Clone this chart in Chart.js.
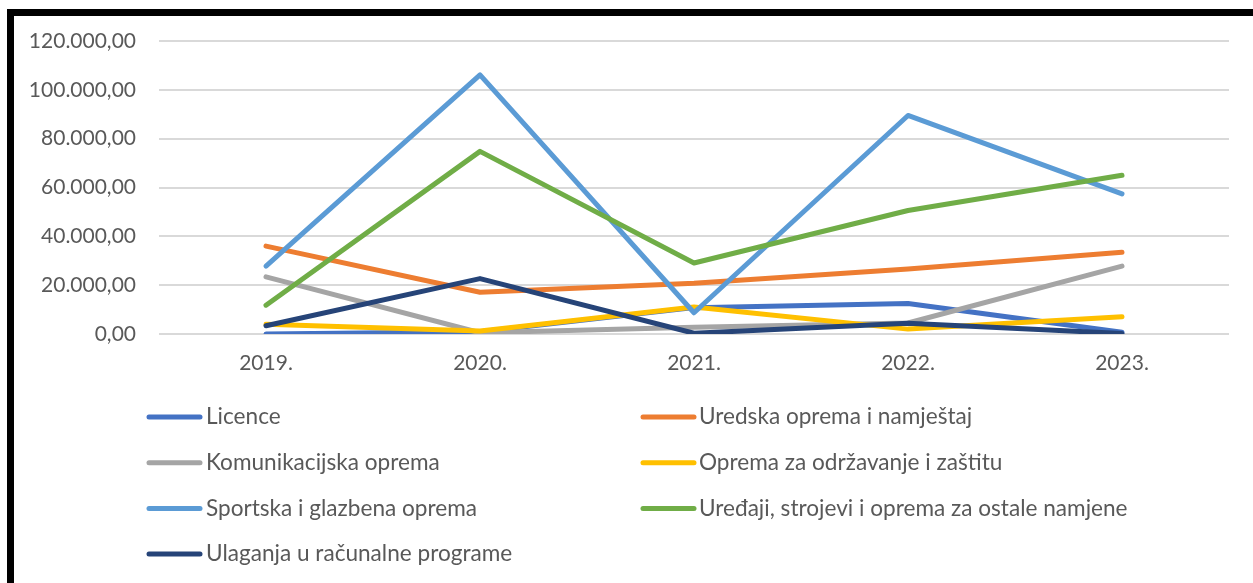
<!DOCTYPE html>
<html><head><meta charset="utf-8">
<script src="https://cdn.jsdelivr.net/npm/chart.js@4.4.1/dist/chart.umd.min.js"></script>
<style>
html,body{margin:0;padding:0;background:#fff;overflow:hidden}
#wrap{position:relative;width:1253px;height:583px}
#frame{position:absolute;left:7px;top:9px;width:1260px;height:600px;border-left:7px solid #000;border-top:7px solid #000;box-sizing:border-box;pointer-events:none}
canvas{position:absolute;left:0;top:0}
</style></head>
<body><div id="wrap"><canvas id="c" width="1253" height="583"></canvas><div id="frame"></div></div>
<script>
const categories = ['2019.', '2020.', '2021.', '2022.', '2023.'];
const seriesNames = [
  'Licence',
  'Uredska oprema i namještaj',
  'Komunikacijska oprema',
  'Oprema za održavanje i zaštitu',
  'Sportska i glazbena oprema',
  'Uređaji, strojevi i oprema za ostale namjene',
  'Ulaganja u računalne programe'
];
const licence        = [0, 900, 10800, 12500, 700];
const uredska        = [36000, 17100, 20800, 26600, 33500];
const komunikacijska = [23400, 500, 2800, 4500, 27800];
const odrzavanje     = [4000, 1200, 11100, 2000, 7100];
const sportska       = [27800, 106100, 8700, 89500, 57400];
const uredaji        = [11800, 74800, 29100, 50600, 65000];
const ulaganja       = [3400, 22700, 300, 4400, 200];
const yTicks = [0, 20000, 40000, 60000, 80000, 100000, 120000];
const colors = ['#4472C4', '#ED7D31', '#A5A5A5', '#FFC000', '#5B9BD5', '#70AD47', '#264478'];

const seriesValues = [licence, uredska, komunikacijska, odrzavanje, sportska, uredaji, ulaganja];

function fmt(v) {
  const s = Math.round(v).toString().replace(/\B(?=(\d{3})+(?!\d))/g, '.');
  return s + ',00';
}

const TEXT = '#595959';
const FONT = 'Lato';

const legendPlugin = {
  id: 'gridLegend',
  afterDraw(chart) {
    const ctx = chart.ctx;
    ctx.save();
    chart.data.datasets.forEach((ds, i) => {
      const col = i % 2, row = Math.floor(i / 2);
      const y = 417 + row * 45.7;
      const x0 = col === 0 ? 149 : 643;
      const x1 = col === 0 ? 200 : 694;
      const tx = col === 0 ? 206 : 699;
      ctx.strokeStyle = ds.borderColor;
      ctx.lineWidth = 5;
      ctx.lineCap = 'round';
      ctx.beginPath(); ctx.moveTo(x0, y); ctx.lineTo(x1, y); ctx.stroke();
      ctx.fillStyle = TEXT;
      ctx.font = '22.6px ' + FONT;
      ctx.textBaseline = 'middle';
      ctx.textAlign = 'left';
      ctx.fillText(ds.label, tx, y);
    });
    ctx.restore();
  }
};

new Chart(document.getElementById('c'), {
  type: 'line',
  data: {
    labels: categories,
    datasets: seriesNames.map((n, i) => ({
      label: n,
      data: seriesValues[i],
      borderColor: colors[i],
      backgroundColor: colors[i],
      borderWidth: 5,
      borderCapStyle: 'round',
      borderJoinStyle: 'round',
      pointRadius: 0,
      tension: 0,
      order: seriesNames.length - i
    }))
  },
  options: {
    responsive: false,
    animation: false,
    devicePixelRatio: 1,
    layout: { padding: { left: 0, top: 41, right: 24, bottom: 199 } },
    plugins: { legend: { display: false }, tooltip: { enabled: false } },
    scales: {
      x: {
        offset: true,
        grid: { display: false, drawTicks: false },
        border: { display: false },
        ticks: { color: TEXT, font: { family: FONT, size: 21 }, padding: 17 },
        afterFit(s) { s.height = 50; }
      },
      y: {
        min: 0, max: 120000,
        afterBuildTicks(s) { s.ticks = yTicks.map(v => ({ value: v })); },
        grid: { color: '#D9D9D9', lineWidth: 2, drawTicks: false },
        border: { display: false },
        ticks: { color: TEXT, font: { family: FONT, size: 21 }, padding: 23, callback: v => fmt(v) },
        afterFit(s) { s.width = 159; }
      }
    }
  },
  plugins: [legendPlugin]
});
</script>
</body></html>
